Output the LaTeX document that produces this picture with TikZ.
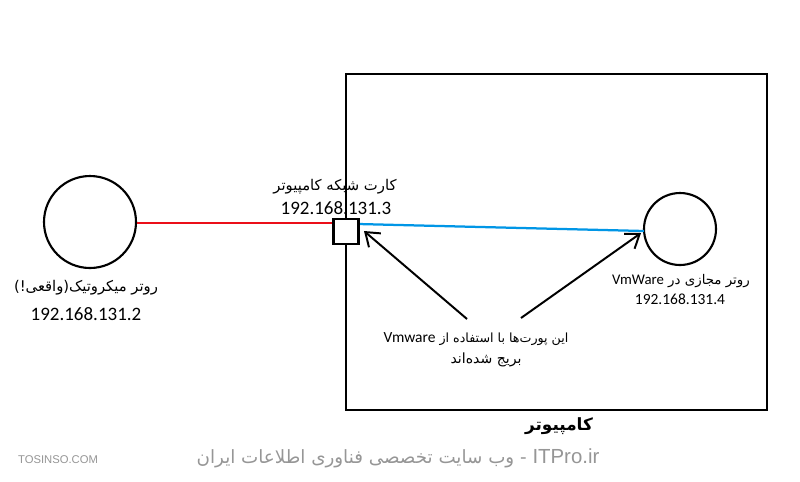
\documentclass[tikz,border=0pt]{standalone}
\usepackage{fontspec}
\setmainfont{Carlito}
\newfontfamily\fa[Script=Arabic]{DejaVu Sans}
\newfontfamily\footfont{Liberation Sans}
\TeXXeTstate=1
\usetikzlibrary{arrows.meta}
\definecolor{netred}{RGB}{235,15,25}
\definecolor{netblue}{RGB}{0,150,230}
\definecolor{footgray}{RGB}{150,150,150}
\begin{document}
\begin{tikzpicture}[x=0.025cm,y=-0.025cm,
  router/.style={draw,circle,line width=1.5pt,inner sep=0pt},
  lbl/.style={inner sep=0pt,align=center},
  arr/.style={line width=1.4pt,-{Straight Barb[length=9pt,width=13pt,line width=1.4pt]}},
  wire/.style={line width=1.6pt}]
\useasboundingbox (0,0) rectangle (800,481);
\fill[white] (0,0) rectangle (800,481);
\node[draw,line width=1.5pt,minimum width=421*0.025cm,minimum height=336*0.025cm,inner sep=0pt] (pc) at (556.5,242) {};
\node[router,minimum size=92*0.025cm] (mk) at (90,222) {};
\node[router,minimum size=72*0.025cm] (vr) at (680,229) {};
\node[draw,fill=white,line width=1.5pt,minimum size=25*0.025cm,inner sep=0pt] (nic) at (346,231.5) {};
\coordinate (rl) at (334,223);
\coordinate (bl) at (358,224);
\coordinate (br) at (644,231);
\draw[wire,netred] (mk.east |- rl) -- (rl);
\draw[wire,netblue] (bl) -- (br);
\node[draw,fill=white,line width=1.5pt,minimum size=25*0.025cm,inner sep=0pt] at (nic) {};
\node[lbl,font=\fa\fontsize{10.5}{12}\selectfont] (nict) at (335,187) {\beginR کارت شبکه کامپیوتر\endR};
\node[lbl,font=\fontsize{13.5}{15}\selectfont] (nicip) at (336,208) {192.168.131.3};
\node[lbl,font=\fa\fontsize{10.5}{12}\selectfont] (mkt) at (86,288) {\beginR روتر میکروتیک(واقعی!)\endR};
\node[lbl,font=\fontsize{13.5}{15}\selectfont] (mkip) at (86,314) {192.168.131.2};
\node[lbl,font=\fa\fontsize{9.5}{11}\selectfont] (vrt) at (681,281) {\beginR روتر مجازی در {\rmfamily\fontsize{10.5}{11}\selectfont VmWare}\endR};
\node[lbl,font=\fontsize{11}{13}\selectfont] (vrip) at (680,299) {192.168.131.4};
\node[lbl,font=\fa\fontsize{9}{12}\selectfont] (br1) at (476,339) {\beginR این پورت‌ها با استفاده از {\rmfamily\fontsize{11}{12}\selectfont Vmware}\endR};
\node[lbl,font=\fa\fontsize{10}{12}\selectfont] (br2) at (486,360) {\beginR بریج شده‌اند\endR};
\node[lbl,font=\fa\bfseries\fontsize{12}{14}\selectfont] (pct) at (559,426) {\beginR کامپیوتر\endR};
\coordinate (a1s) at (467,319);
\coordinate (a2s) at (521,318);
\draw[arr] (a1s) -- (364,231);
\draw[arr] (a2s) -- (641,233);
\node[lbl,font=\footfont\fontsize{8}{10}\selectfont,text=footgray] (tos) at (58,460) {TOSINSO.COM};
\node[lbl,font=\fa\fontsize{13}{14}\selectfont,text=footgray] (itp) at (398,458) {\beginR \beginL{\footfont\fontsize{14.5}{14}\selectfont ITPro.ir}\endL{} - وب سایت تخصصی فناوری اطلاعات ایران\endR};
\end{tikzpicture}
\end{document}
